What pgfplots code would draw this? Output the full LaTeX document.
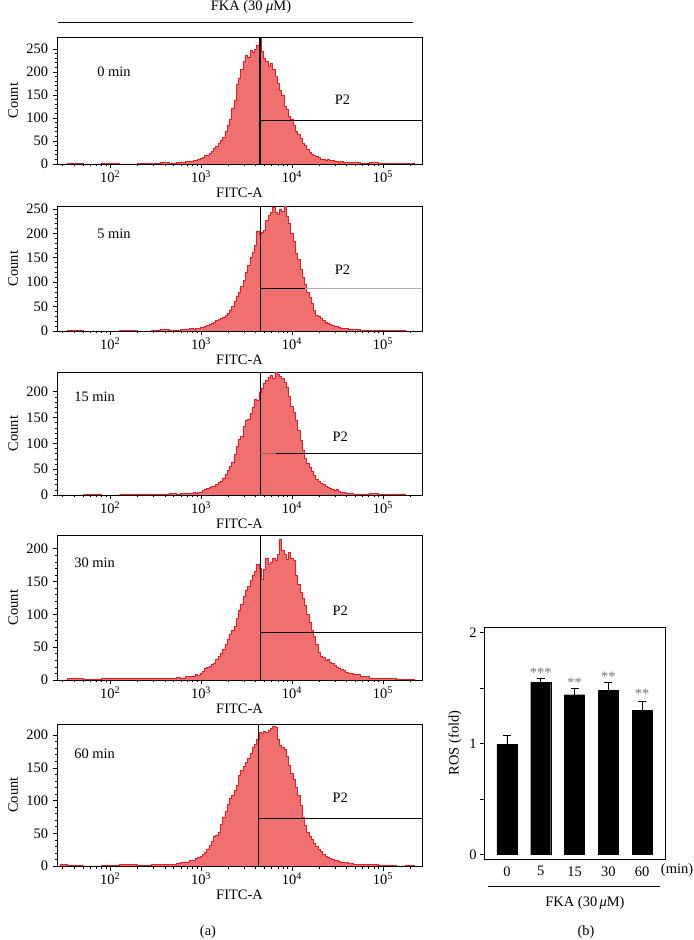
\documentclass[border=0pt]{standalone}
\usepackage{fontspec}
\setmainfont{Liberation Serif}
\usepackage{pgfplots}
\pgfplotsset{compat=1.18}
\usepackage{pgfplotstable}
\definecolor{histfill}{RGB}{240,112,112}
\definecolor{histedge}{RGB}{232,28,36}
\pgfkeys{/pgf/number format/assume math mode=true}
\pgfplotstableread{
x c0 c5 c15 c30 c60
28.2 0 0 0 0 2
39.8 1 1 0 2 1
63.1 0 0 1 1 0
100 1 0 0 2 1
158.5 0 1 1 3 2
251.2 1 0 2 2 1
316.2 2 1 1 3 2
398.1 3 3 2 2 3
501.2 2 2 3 3 2
562.3 4 2 2 4 4
631.0 3 4 3 3 5
707.9 6 3 4 5 6
794.3 5 5 3 5 8
841.4 8 4 5 6 9
891.3 7 6 4 8 12
944.1 10 5 6 7 13
1000 12 8 6 10 15
1059.3 14 7 9 13 18
1122.0 19 10 10 17 21
1188.5 18 11 12 19 26
1258.9 24 14 14 21 31
1333.5 28 15 16 24 38
1412.5 33 18 17 26 46
1496.2 39 21 21 31 47
1584.9 44 23 24 36 52
1678.8 52 26 27 40 64
1778.3 58 28 33 47 74
1883.6 72 32 40 55 84
1995.3 84 36 47 62 94
2113.5 98 42 55 70 104
2238.7 122 50 64 75 108
2371.4 138 60 78 82 116
2511.9 172 70 94 94 124
2660.7 186 80 108 106 138
2818.4 205 92 114 116 146
2985.4 222 104 132 128 152
3162.3 236 120 144 136 158
3349.7 232 135 146 142 164
3548.1 246 150 158 152 172
3758.4 243 162 170 160 182
3981.1 250 176 186 166 186
4217.0 258 205 184 176 194
4466.8 272 198 198 170 204
4731.5 244 202 206 154 202
5011.9 230 206 216 168 206
5308.8 222 226 222 186 204
5623.4 212 236 228 176 208
5956.6 219 242 232 180 210
6309.6 206 254 226 186 214
6683.4 190 244 238 182 212
7079.5 176 238 234 192 194
7498.9 160 250 230 214 184
7943.3 150 246 226 198 182
8414.0 126 256 218 192 178
8912.5 118 234 208 184 168
9440.6 104 220 190 194 154
10000 96 200 172 186 142
10593 84 184 160 182 132
11220 72 160 144 160 120
11885 64 146 126 146 108
12589 56 126 106 134 92
13335 45 110 86 124 74
14125 40 96 70 114 62
14962 32 80 62 100 52
15849 26 68 54 88 46
16788 22 56 45 76 40
17783 18 42 38 66 35
18836 16 32 30 54 30
19953 14 29 26 42 25
21135 11 25 22 36 22
22387 10 22 20 34 18
23714 8 18 16 30 15
25119 9 16 14 31 13
26607 7 13 12 27 11
28184 8 11 11 25 10
29854 5 9 9 22 8
31623 6 10 10 20 8
33497 4 7 7 17 7
35481 5 6 6 16 6
37584 4 5 5 14 5
39811 3 5 4 12 5
44668 4 3 3 10 4
50119 3 3 2 8 3
63096 2 2 2 5 2
79433 3 1 3 3 2
100000 2 2 1 2 1
125893 1 1 1 2 1
158489 2 1 2 1 0
199526 1 0 0 1 1
251189 0 0 0 0 0
}\histdata
\pgfplotsset{
  every axis/.append style={font=\fontsize{14.5}{17}\selectfont},
  flowpanel/.style={scale only axis, width=365bp, anchor=south west, xmin=26, xmax=270000, ymin=0,
    tick align=outside, tick pos=left,
    xtick={100,1000,10000,100000},
    xticklabels={10\textsuperscript{2},10\textsuperscript{3},10\textsuperscript{4},10\textsuperscript{5}},
    minor xtick={30,40,50,60,70,80,90,200,300,400,500,600,700,800,900,2000,3000,4000,5000,6000,7000,8000,9000,20000,30000,40000,50000,60000,70000,80000,90000,200000},
    major tick length=4.5bp, minor tick length=2.5bp,
    minor y tick num=4,
    xlabel={FITC-A}, ylabel={Count},
    xlabel style={at={(axis description cs:0.5,0)}, anchor=center, yshift=-29bp},
    ylabel style={at={(axis description cs:-0.12,0.5)}, anchor=center},
    y tick label style={xshift=-1bp},
    x tick label style={yshift=1bp},
    axis line style={line width=0.8bp},
    every tick/.style={black, line width=0.6bp},
  },
  histplot/.style={const plot mark mid, draw=histedge, fill=histfill, line width=0.7bp},
  gate/.style={black, line width=0.9bp},
}
\begin{document}
\begin{tikzpicture}[font=\fontsize{14.5}{17}\selectfont]
\useasboundingbox (0,0) rectangle (694bp,940bp);
% panel 0 min
\begin{semilogxaxis}[flowpanel, at={(57bp,776bp)}, height=127bp, ymax=276, ytick={0,50,100,150,200,250}]
\addplot[histplot] table[x=x,y=c0] {\histdata} \closedcycle;
\addplot[black, line width=2bp] coordinates {(4400,0) (4400,276)};
\addplot[gate] coordinates {(4400,95) (270000,95)};
\node[anchor=west] at (axis cs:66,200) {0 min};
\node at (axis cs:36000,140) {P2};
\end{semilogxaxis}
% panel 5 min
\begin{semilogxaxis}[flowpanel, at={(57bp,609bp)}, height=125bp, ymax=256, ytick={0,50,100,150,200,250}]
\addplot[histplot] table[x=x,y=c5] {\histdata} \closedcycle;
\addplot[gate] coordinates {(4450,0) (4450,256)};
\addplot[gate] coordinates {(4450,87) (14000,87)};
\addplot[gray!60, line width=0.8bp] coordinates {(14000,87) (270000,87)};
\node[anchor=west] at (axis cs:66,200) {5 min};
\node at (axis cs:36000,126) {P2};
\end{semilogxaxis}
% panel 15 min
\begin{semilogxaxis}[flowpanel, at={(57bp,445bp)}, height=123bp, ymax=238, ytick={0,50,100,150,200}]
\addplot[histplot] table[x=x,y=c15] {\histdata} \closedcycle;
\addplot[gate] coordinates {(4450,0) (4450,238)};
\addplot[gray!80!red, line width=0.8bp] coordinates {(4450,81) (6600,81)};
\addplot[gate] coordinates {(6600,81) (270000,81)};
\node[anchor=west] at (axis cs:37,190) {15 min};
\node at (axis cs:34000,112) {P2};
\end{semilogxaxis}
% panel 30 min
\begin{semilogxaxis}[flowpanel, at={(57bp,260bp)}, height=145bp, ymax=221, ytick={0,50,100,150,200}]
\addplot[histplot] table[x=x,y=c30] {\histdata} \closedcycle;
\addplot[gate] coordinates {(4450,0) (4450,221)};
\addplot[gate] coordinates {(4450,73) (270000,73)};
\node[anchor=west] at (axis cs:37,179) {30 min};
\node at (axis cs:34000,105) {P2};
\end{semilogxaxis}
% panel 60 min
\begin{semilogxaxis}[flowpanel, at={(57bp,74bp)}, height=142bp, ymax=217, ytick={0,50,100,150,200}]
\addplot[histplot] table[x=x,y=c60] {\histdata} \closedcycle;
\addplot[gate] coordinates {(4250,0) (4250,217)};
\addplot[gate] coordinates {(4250,73) (270000,73)};
\node[anchor=west] at (axis cs:37,172) {60 min};
\node at (axis cs:34000,105) {P2};
\end{semilogxaxis}
% bar chart
\begin{axis}[at={(484bp,81bp)}, anchor=south west, scale only axis, width=181bp, height=232bp,
  xmin=-0.68, xmax=4.68, ymin=-0.04, ymax=2.05,
  ybar, bar width=20bp,
  xtick={0,1,2,3,4}, xticklabels={0,5,15,30,60}, major x tick style={draw=none},
  ytick={0,0.5,1,1.5,2}, yticklabels={0,,1,,2},
  tick pos=left, tick align=outside, major tick length=4bp,
  every tick/.style={black, line width=0.6bp},
  ylabel={ROS (fold)}, ylabel style={at={(axis description cs:-0.16,0.5)}, anchor=center},
  axis line style={line width=0.8bp}]
\addplot[fill=black, draw=black, error bars/.cd, y dir=plus, y explicit,
  error bar style={line width=0.9bp}, error mark options={rotate=90, mark size=4bp, line width=0.9bp}]
  coordinates {(0,0.99) +- (0,0.08) (1,1.55) +- (0,0.035) (2,1.44) +- (0,0.055) (3,1.48) +- (0,0.07) (4,1.30) +- (0,0.08)};
\node[text=black!55] at (axis cs:1,1.635) {***};
\node[text=black!55] at (axis cs:2,1.545) {**};
\node[text=black!55] at (axis cs:3,1.60) {**};
\node[text=black!55] at (axis cs:4,1.445) {**};
\end{axis}
% annotations
\node at (251bp,933bp) {FKA (30 \textit{μ}M)};
\draw[line width=0.8bp] (58bp,918bp) -- (413bp,918bp);
\node at (208bp,8bp) {(a)};
\node at (677bp,70bp) {(min)};
\draw[line width=0.8bp] (488bp,54bp) -- (660bp,54bp);
\node at (585bp,37bp) {FKA (30\,\textit{μ}M)};
\node at (586bp,8bp) {(b)};
\end{tikzpicture}
\end{document}
